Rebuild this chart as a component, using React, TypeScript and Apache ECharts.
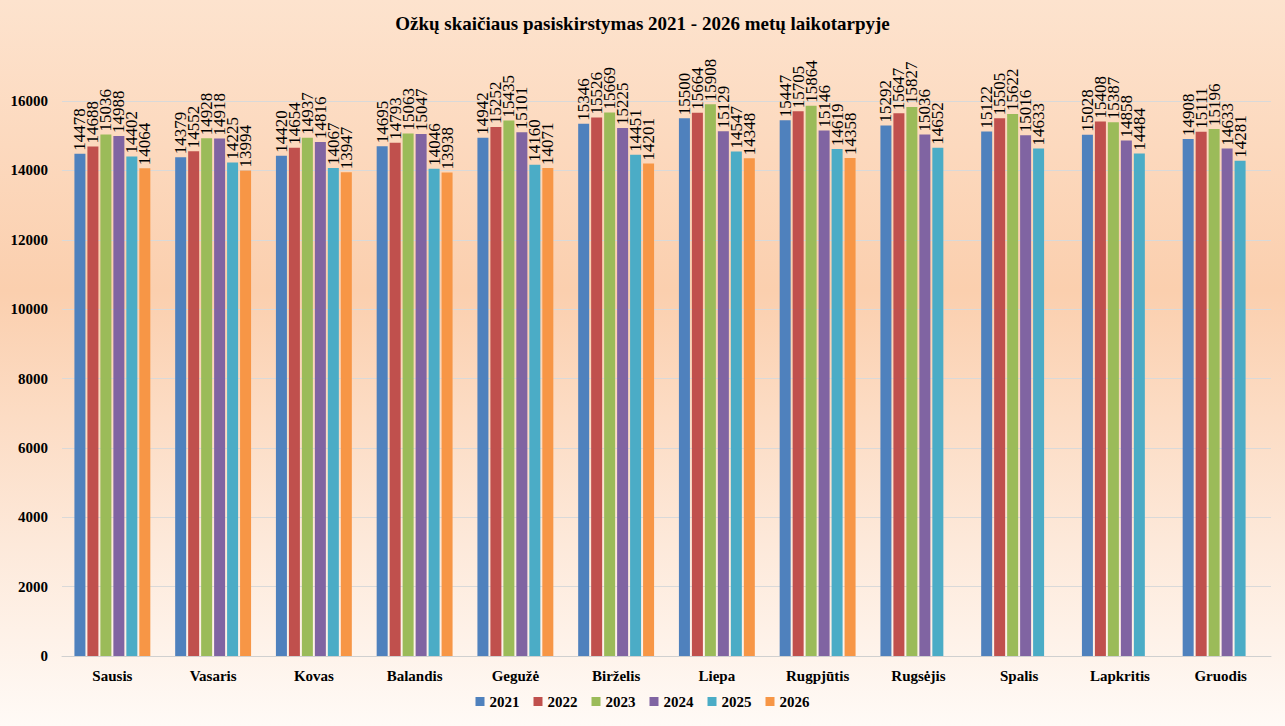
import React, { useEffect, useRef } from 'react';
import * as echarts from 'echarts';

// kategorijos (mėnesiai)
const months = [
  'Sausis', 'Vasaris', 'Kovas', 'Balandis', 'Gegužė', 'Birželis',
  'Liepa', 'Rugpjūtis', 'Rugsėjis', 'Spalis', 'Lapkritis', 'Gruodis',
];

const years = ['2021', '2022', '2023', '2024', '2025', '2026'];

const v2021 = [14478, 14379, 14420, 14695, 14942, 15346, 15500, 15447, 15292, 15122, 15028, 14908];
const v2022 = [14688, 14552, 14654, 14793, 15252, 15526, 15664, 15705, 15647, 15505, 15408, 15111];
const v2023 = [15036, 14928, 14937, 15063, 15435, 15669, 15908, 15864, 15827, 15622, 15387, 15196];
const v2024 = [14988, 14918, 14816, 15047, 15101, 15225, 15129, 15146, 15036, 15016, 14858, 14633];
const v2025 = [14402, 14225, 14067, 14046, 14160, 14451, 14547, 14619, 14652, 14633, 14484, 14281];
const v2026 = [14064, 13994, 13947, 13938, 14071, 14201, 14348, 14358, null, null, null, null];

const colors = ['#4f81bd', '#c0504d', '#9bbb59', '#8064a2', '#4bacc6', '#f79646'];

const FONT = 'Liberation Serif';

const App: React.FC = () => {
  const chartRef = useRef<HTMLDivElement>(null);

  useEffect(() => {
    if (!chartRef.current) return;
    const chart = echarts.init(chartRef.current, undefined, { renderer: 'svg' });
    const allValues = [v2021, v2022, v2023, v2024, v2025, v2026];

    chart.setOption({
      animation: false,
      backgroundColor: new echarts.graphic.LinearGradient(0, 0, 0, 1, [
        { offset: 0, color: '#fde3ce' },
        { offset: 0.4, color: '#fbcfae' },
        { offset: 0.75, color: '#fde9da' },
        { offset: 1, color: '#fffaf6' },
      ]),
      title: {
        text: 'Ožkų skaičiaus pasiskirstymas 2021 - 2026 metų laikotarpyje',
        left: 'center',
        top: 9,
        textStyle: { fontFamily: FONT, fontSize: 19, fontWeight: 'bold', color: '#000' },
      },
      legend: {
        bottom: 12,
        left: 'center',
        itemWidth: 9,
        itemHeight: 9,
        itemGap: 14,
        icon: 'rect',
        textStyle: { fontFamily: FONT, fontSize: 15, fontWeight: 'bold', color: '#000' },
        data: years,
      },
      grid: { left: 62, right: 14, top: 101, bottom: 70 },
      xAxis: {
        type: 'category',
        data: months,
        axisLine: { lineStyle: { color: '#d0d0d0' } },
        axisTick: { show: false },
        axisLabel: {
          fontFamily: FONT,
          fontSize: 15,
          fontWeight: 'bold',
          color: '#000',
          margin: 12,
          interval: 0,
        },
      },
      yAxis: {
        type: 'value',
        min: 0,
        max: 16000,
        interval: 2000,
        axisLine: { show: false },
        axisTick: { show: false },
        splitLine: { lineStyle: { color: '#d9d9d9' } },
        axisLabel: {
          fontFamily: FONT,
          fontSize: 15,
          fontWeight: 'bold',
          color: '#000',
          margin: 14,
          formatter: (v: number) => String(v),
        },
      },
      series: years.map((y, i) => ({
        name: y,
        type: 'bar',
        data: allValues[i],
        barWidth: 11,
        barGap: '18%',
        itemStyle: { color: colors[i] },
        label: {
          show: true,
          position: 'top',
          rotate: 90,
          align: 'left',
          verticalAlign: 'middle',
          distance: 3,
          fontFamily: FONT,
          fontSize: 17,
          color: '#000',
        },
      })),
    });

    return () => {
      chart.dispose();
    };
  }, []);

  return (
    <div
      ref={chartRef}
      style={{ position: 'fixed', left: 0, top: 0, width: '1285px', height: '726px' }}
    ></div>
  );
};

export default App;
